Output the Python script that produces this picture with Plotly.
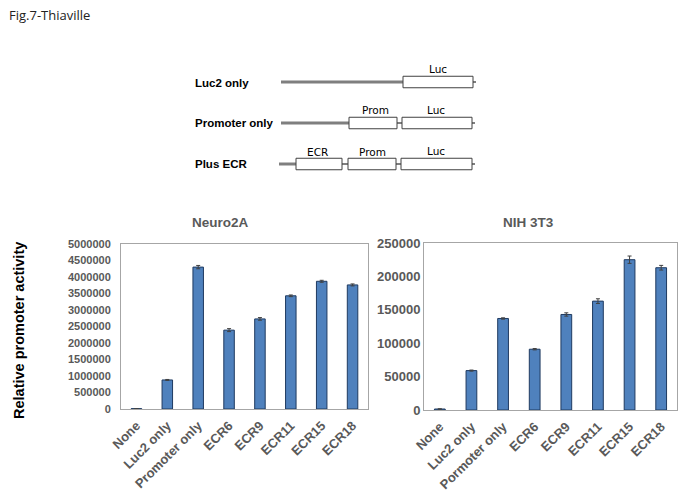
import plotly.graph_objects as go

W, H = 683, 493

# ---- data ----
categories_n2a = ["None", "Luc2 only", "Promoter only", "ECR6", "ECR9", "ECR11", "ECR15", "ECR18"]
values_n2a = [10000, 880000, 4300000, 2390000, 2730000, 3430000, 3870000, 3760000]
errors_n2a = [5000, 15000, 50000, 45000, 40000, 25000, 30000, 30000]

categories_nih = ["None", "Luc2 only", "Pormoter only", "ECR6", "ECR9", "ECR11", "ECR15", "ECR18"]
values_nih = [1500, 59000, 137000, 91000, 143000, 163000, 225000, 213000]
errors_nih = [300, 800, 1000, 1000, 2500, 3500, 5500, 3500]

ytick_n2a = list(range(0, 5000001, 500000))
ytick_nih = list(range(0, 250001, 50000))

construct_labels = ["Luc2 only", "Promoter only", "Plus ECR"]

def px(x):
    return x / W

def py(y):
    return 1 - y / H

BAR = "#4F81BD"
EDGE = "#1F3A60"
GRAY = "#595959"

fig = go.Figure()
fig.add_trace(go.Bar(
    x=categories_n2a, y=values_n2a, xaxis="x", yaxis="y",
    marker=dict(color=BAR, line=dict(color=EDGE, width=1)),
    error_y=dict(type="data", array=errors_n2a, color="#404040", thickness=1, width=2),
    width=0.34, showlegend=False, hoverinfo="skip"))
fig.add_trace(go.Bar(
    x=categories_nih, y=values_nih, xaxis="x2", yaxis="y2",
    marker=dict(color=BAR, line=dict(color=EDGE, width=1)),
    error_y=dict(type="data", array=errors_nih, color="#404040", thickness=1, width=2),
    width=0.34, showlegend=False, hoverinfo="skip"))

def tf(size):
    return dict(family="Liberation Sans, Arial", size=size, color=GRAY, weight="bold")

axis_common = dict(showline=True, mirror=True, linecolor="#A6A6A6", linewidth=1,
                   showgrid=False, zeroline=False, ticks="",
                   fixedrange=True, automargin=False)

fig.update_layout(
    width=W, height=H,
    margin=dict(l=0, r=0, t=0, b=0, pad=0, autoexpand=False),
    paper_bgcolor="white", plot_bgcolor="white",
    showlegend=False,
    xaxis=dict(domain=[px(121), px(368)], anchor="y", tickangle=-45, tickfont=tf(13),
               ticklabelstandoff=3, **axis_common),
    yaxis=dict(domain=[py(409), py(244)], anchor="x", range=[0, 5000000], tickfont=tf(11),
               ticklabelstandoff=7,
               tickvals=ytick_n2a, ticktext=[str(v) for v in ytick_n2a], **axis_common),
    xaxis2=dict(domain=[px(424), px(677)], anchor="y2", tickangle=-45, tickfont=tf(13),
                ticklabelstandoff=3, **axis_common),
    yaxis2=dict(domain=[py(410), py(243)], anchor="x2", range=[0, 250000], tickfont=tf(13),
                ticklabelstandoff=0,
                tickvals=ytick_nih, ticktext=[str(v) for v in ytick_nih], **axis_common),
)

annotations = [
    dict(text="Fig.7-Thiaville", x=px(7), y=py(15), xanchor="left", yanchor="middle",
         font=dict(family="Open Sans", size=13, color="#222")),
    dict(text="<b>Neuro2A</b>", x=px(220), y=py(222), xanchor="center", yanchor="middle",
         font=dict(family="Liberation Sans", size=13.5, color=GRAY)),
    dict(text="<b>NIH 3T3</b>", x=px(528), y=py(222), xanchor="center", yanchor="middle",
         font=dict(family="Liberation Sans", size=13.5, color=GRAY)),
    dict(text="<b>Relative promoter activity</b>", x=px(19), y=py(331), xanchor="center",
         yanchor="middle", textangle=-90,
         font=dict(family="Liberation Sans", size=14.5, color="black")),
]
label_y = [83, 123, 164]
for lab, yy in zip(construct_labels, label_y):
    annotations.append(dict(text="<b>%s</b>" % lab, x=px(193), y=py(yy), xanchor="left",
                            yanchor="middle",
                            font=dict(family="Liberation Sans", size=11.5, color="black")))

# element labels above boxes
elem_labels = [("Luc", 438, 69), ("Prom", 375, 110), ("Luc", 436, 110),
               ("ECR", 317, 152), ("Prom", 372, 152), ("Luc", 436, 151)]
for t, xx, yy in elem_labels:
    annotations.append(dict(text=t, x=px(xx), y=py(yy), xanchor="center", yanchor="middle",
                            font=dict(family="DejaVu Sans", size=10.5, color="black")))

for a in annotations:
    a.update(xref="paper", yref="paper", showarrow=False)
fig.update_layout(annotations=annotations)

# diagram shapes
shapes = []
LINEC = "#7F7F7F"
def hline(x0, x1, y, w=3):
    shapes.append(dict(type="line", xref="paper", yref="paper", x0=px(x0), x1=px(x1),
                       y0=py(y), y1=py(y), line=dict(color=LINEC, width=w)))
def box(x0, x1, yc, h=11.5):
    shapes.append(dict(type="rect", xref="paper", yref="paper", x0=px(x0), x1=px(x1),
                       y0=py(yc + h / 2), y1=py(yc - h / 2), fillcolor="white",
                       line=dict(color="#404040", width=1)))

# row 1
hline(281, 403, 82)
hline(473, 476, 82, 2)
box(403, 473, 82)
# row 2
hline(281, 349, 123)
hline(397, 402, 123, 2)
hline(472, 475, 123, 2)
box(349, 397, 123)
box(402, 472, 123)
# row 3
hline(279, 296, 164)
hline(342, 348, 164, 2)
hline(396, 401, 164, 2)
hline(472, 475, 164, 2)
box(296, 342, 164)
box(348, 396, 164)
box(401, 472, 164)

fig.update_layout(shapes=shapes)

fig.write_html("out.html", config={"displayModeBar": False},
               post_script="document.body.style.margin='0';document.body.style.overflow='hidden';")
